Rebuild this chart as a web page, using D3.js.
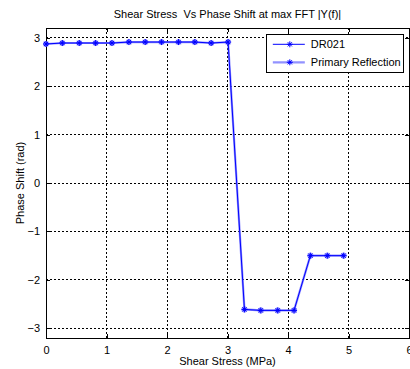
<!DOCTYPE html>
<html>
<head>
<meta charset="utf-8">
<script src="https://cdn.jsdelivr.net/npm/d3@7"></script>
<style>
  html, body { margin: 0; padding: 0; background: #fff; }
  svg { display: block; font-family: "Liberation Sans", Arial, sans-serif; }
</style>
</head>
<body>
<div id="chart"></div>
<script>
// Shear stress (MPa) and phase shift (rad)
const stress = [0, 0.27, 0.55, 0.82, 1.09, 1.37, 1.64, 1.91, 2.19, 2.46, 2.73, 3.01,
  3.28, 3.55, 3.83, 4.10, 4.37, 4.65, 4.92]
const phaseDR021 = [2.87, 2.89, 2.89, 2.89, 2.89, 2.91, 2.91, 2.91, 2.91, 2.91, 2.89, 2.91,
  -2.61, -2.63, -2.63, -2.63, -1.5, -1.5, -1.5]
const phasePrimary = phaseDR021.slice()

const xTicks = [0, 1, 2, 3, 4, 5, 6]
const yTicks = [-3, -2, -1, 0, 1, 2, 3]

const series = [
  { name: "DR021", values: phaseDR021, color: "#0000ff", width: 1, opacity: 1 },
  { name: "Primary Reflection", values: phasePrimary, color: "#7777ff", width: 2.2, opacity: 0.8 }
]

const width = 410, height = 369
const margin = { top: 28, right: 1, bottom: 31, left: 46 }
const iw = width - margin.left - margin.right
const ih = height - margin.top - margin.bottom

const svg = d3.select("#chart").append("svg")
  .attr("width", width)
  .attr("height", height)

const x = d3.scaleLinear().domain([0, 6]).range([0, iw])
const y = d3.scaleLinear().domain([-3.2, 3.2]).range([ih, 0])

const g = svg.append("g").attr("transform", `translate(${margin.left},${margin.top})`)

// Grid
g.append("g").selectAll("line")
  .data(xTicks.slice(1, -1))
  .join("line")
  .attr("x1", d => x(d)).attr("x2", d => x(d))
  .attr("y1", 0).attr("y2", ih)
  .attr("stroke", "#000").attr("stroke-width", 1)
  .attr("stroke-dasharray", "2,2")
  .attr("shape-rendering", "crispEdges")

g.append("g").selectAll("line")
  .data(yTicks)
  .join("line")
  .attr("x1", 0).attr("x2", iw)
  .attr("y1", d => y(d)).attr("y2", d => y(d))
  .attr("stroke", "#000").attr("stroke-width", 1)
  .attr("stroke-dasharray", "2,2")
  .attr("shape-rendering", "crispEdges")

// Axes
const xAxis = g.append("g").attr("transform", `translate(0,${ih})`)
  .call(d3.axisBottom(x).tickValues(xTicks).tickSize(-4).tickPadding(8).tickFormat(d3.format("d")))
const xTop = g.append("g")
  .call(d3.axisTop(x).tickValues(xTicks).tickSize(-4).tickFormat(""))
const yAxis = g.append("g")
  .call(d3.axisLeft(y).tickValues(yTicks).tickSize(-4).tickPadding(6).tickFormat(d3.format("d")))
const yRight = g.append("g").attr("transform", `translate(${iw},0)`)
  .call(d3.axisRight(y).tickValues(yTicks).tickSize(-4).tickFormat(""))

;[xAxis, xTop, yAxis, yRight].forEach(a => {
  a.select(".domain").remove()
  a.selectAll("line").attr("stroke", "#000").attr("shape-rendering", "crispEdges")
  a.selectAll("text").attr("font-size", 11).attr("fill", "#000")
    .attr("font-family", "Liberation Sans, Arial, sans-serif")
})

g.append("rect")
  .attr("x", 0).attr("y", 0).attr("width", iw).attr("height", ih)
  .attr("fill", "none").attr("stroke", "#000").attr("stroke-width", 1)
  .attr("shape-rendering", "crispEdges")

// Lines
const line = d3.line().x((d, i) => x(stress[i])).y(d => y(d))

const starPath = s => `M${-s},0L${s},0M0,${-s}L0,${s}M${-s * 0.7},${-s * 0.7}L${s * 0.7},${s * 0.7}M${-s * 0.7},${s * 0.7}L${s * 0.7},${-s * 0.7}`

series.slice().reverse().forEach(s => {
  g.append("path")
    .datum(s.values)
    .attr("d", line)
    .attr("fill", "none")
    .attr("stroke", s.color)
    .attr("stroke-opacity", s.opacity)
    .attr("stroke-width", s.width)

  g.append("g").selectAll("path")
    .data(s.values)
    .join("path")
    .attr("transform", (d, i) => `translate(${x(stress[i])},${y(d)})`)
    .attr("d", starPath(3))
    .attr("fill", "none")
    .attr("stroke", s.color)
    .attr("stroke-opacity", s.opacity)
    .attr("stroke-width", s.width)
})

// Legend
const lg = g.append("g").attr("transform", `translate(${x(3.65)},${y(3.07)})`)
lg.append("rect")
  .attr("width", 137).attr("height", 38)
  .attr("fill", "#fff").attr("stroke", "#000").attr("stroke-width", 1)
  .attr("shape-rendering", "crispEdges")

const item = lg.selectAll("g.item")
  .data(series)
  .join("g")
  .attr("class", "item")
  .attr("transform", (d, i) => `translate(0,${10 + i * 18})`)

item.append("line")
  .attr("x1", 6).attr("x2", 38)
  .attr("stroke", d => d.color)
  .attr("stroke-opacity", d => d.opacity)
  .attr("stroke-width", d => d.width)
item.append("path")
  .attr("transform", "translate(23,0)")
  .attr("d", starPath(3))
  .attr("fill", "none")
  .attr("stroke", "#0000ff")
  .attr("stroke-width", 1)
item.append("text")
  .attr("x", 44).attr("y", 4)
  .attr("font-size", 11)
  .attr("fill", "#000")
  .text(d => d.name)

// Titles
svg.append("text")
  .attr("x", margin.left + iw / 2).attr("y", 18)
  .attr("text-anchor", "middle")
  .attr("font-size", 11)
  .attr("fill", "#000")
  .style("white-space", "pre")
  .text("Shear Stress  Vs Phase Shift at max FFT |Y(f)|")

svg.append("text")
  .attr("x", margin.left + iw / 2).attr("y", 365)
  .attr("text-anchor", "middle")
  .attr("font-size", 11)
  .attr("fill", "#000")
  .text("Shear Stress (MPa)")

svg.append("text")
  .attr("transform", `translate(24,${margin.top + ih / 2}) rotate(-90)`)
  .attr("text-anchor", "middle")
  .attr("font-size", 11)
  .attr("fill", "#000")
  .text("Phase Shift (rad)")
</script>
</body>
</html>
